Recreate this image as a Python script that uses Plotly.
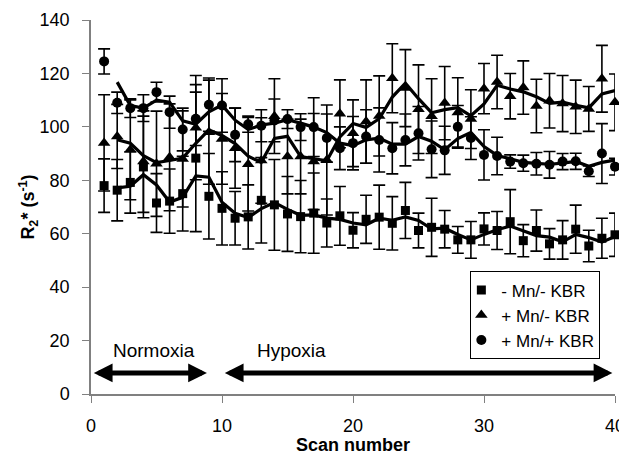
import plotly.graph_objects as go
import pandas as pd

scans = list(range(1, 41))

# - Mn / - KBR (squares)
sq_vals = [78, 76.3, 79.2, 85, 71.5, 72.2, 75, 88.3, 74, 69.5,
           65.8, 66.3, 72.5, 70.8, 67.4, 66.4, 67.7, 64, 66.7, 61.3,
           65.4, 66.2, 63.9, 68.7, 61.2, 62.4, 61.7, 57.7, 57.7, 61.8,
           61.2, 64.5, 57.4, 61.2, 56.2, 57.7, 61.7, 55.4, 58.3, 59.6]
sq_err = [10, 11.5, 11.5, 19, 11, 12, 14, 27.5, 16, 13.7,
          10, 12, 16, 17, 14, 13.5, 15, 9, 11, 6.6,
          9, 12, 10, 10.5, 6.5, 10.9, 7, 5, 6.9, 6,
          7.1, 12, 6, 7.7, 5.7, 7.2, 9, 5.9, 7.5, 8.1]

# + Mn / - KBR (triangles)
tr_vals = [94, 96.4, 91.4, 87, 86.2, 88.6, 88, 99.7, 98, 95.5,
           92, 86, 87.4, 104, 88.9, 88.9, 87, 87.6, 104.9, 97.6,
           102, 104.1, 118.2, 114.5, 106.6, 104, 108.9, 105.4, 102.9, 114.3,
           116.8, 111.5, 114.7, 107.8, 109.8, 108.7, 107.5, 106.7, 118, 109.2]
tr_err = [18, 12, 18.7, 19, 19.7, 20, 18, 19.5, 19.5, 17,
          15, 17.5, 16, 14, 14, 14, 18, 20.6, 12.7, 12.5,
          15.6, 15, 12.9, 14.4, 16.6, 14, 13.7, 13, 11, 9.4,
          10, 8.5, 10, 10, 10.2, 10.5, 10, 8.4, 12.5, 10.6]

# + Mn / + KBR (circles)
ci_vals = [124.5, 109, 107, 107, 113, 105.5, 99, 103, 108.3, 108,
           97, 101, 100.4, 102.4, 102.9, 99.9, 99.9, 95.8, 92, 93.9,
           96.4, 95.1, 92, 95.1, 97.6, 91.6, 91.2, 100, 95.8, 89.5,
           89.1, 87, 86.4, 86.2, 85.8, 87, 87.1, 83.4, 90, 85.1]
ci_err = [4.7, 4, 3.5, 5, 3.7, 6, 8, 10, 10, 10,
          10, 3, 6, 8, 3.5, 5, 11, 9, 8, 10,
          10, 12, 9.6, 9.7, 10, 10.6, 9, 8, 8, 9.4,
          7, 2.5, 3, 4.2, 5, 3, 3, 2, 11.2, 3.1]

series_names = ["- Mn/- KBR", "+ Mn/- KBR", "+ Mn/+ KBR"]
x_ticks = [0, 10, 20, 30, 40]
y_ticks = [0, 20, 40, 60, 80, 100, 120, 140]

# experimental phases (scan ranges) for the double arrows
phase_names = ["Normoxia", "Hypoxia"]
phase_start = [0.1, 10.1]
phase_end = [8.85, 39.8]
phase_label_x = [4.8, 15.3]
arrow_level = 7.9
label_level = 16.3

FONT = "Arial, 'Liberation Sans', sans-serif"

fig = go.Figure()

styles = [("square", 9), ("triangle-up", 11), ("circle", 10)]
data = [(sq_vals, sq_err), (tr_vals, tr_err), (ci_vals, ci_err)]

for (vals, errs), (sym, size) in zip(data, styles):
    fig.add_trace(go.Scatter(
        x=scans, y=vals, mode="markers",
        marker=dict(symbol=sym, size=size, color="black"),
        error_y=dict(type="data", array=errs, visible=True, color="black",
                     thickness=1.6, width=6),
        showlegend=False, cliponaxis=False))

for vals in [sq_vals, tr_vals, ci_vals]:
    ma = pd.Series(vals).rolling(2).mean()
    fig.add_trace(go.Scatter(
        x=scans, y=ma, mode="lines",
        line=dict(color="black", width=3.2),
        showlegend=False, hoverinfo="skip", cliponaxis=False))

for name, (sym, size) in zip(series_names, styles):
    fig.add_trace(go.Scatter(
        x=[None], y=[None], mode="markers", name=name,
        marker=dict(symbol=sym, size=size, color="black")))

annotations = []
for s, e in zip(phase_start, phase_end):
    annotations.append(dict(
        x=e, y=arrow_level, ax=s, ay=arrow_level, xref="x", yref="y",
        axref="x", ayref="y", text="", showarrow=True,
        arrowhead=2, arrowsize=0.75, arrowwidth=5, arrowcolor="black",
        startarrowhead=2, startarrowsize=0.75,
        arrowside="end+start", standoff=0, startstandoff=0))
for name, lx in zip(phase_names, phase_label_x):
    annotations.append(dict(
        x=lx, y=label_level, xref="x", yref="y", text=name,
        showarrow=False, font=dict(size=19, color="black", family=FONT)))

# the page body adds an 8 px offset, so the figure is sized to fit the window
fig.update_layout(
    width=619, height=447,
    margin=dict(l=83, r=12, t=12, b=61),
    paper_bgcolor="white", plot_bgcolor="white",
    font=dict(family=FONT, size=17, color="black"),
    annotations=annotations,
    legend=dict(
        x=0.848, y=0.328, xanchor="center", yanchor="top",
        bordercolor="black", borderwidth=1, bgcolor="white",
        font=dict(size=17, family=FONT), itemwidth=30, indentation=-10,
        tracegroupgap=0),
    xaxis=dict(
        range=[0, 40], tickvals=x_ticks, ticks="outside", ticklen=7,
        tickcolor="#808080", showline=True, linecolor="#808080", linewidth=1.5,
        showgrid=False, zeroline=False, automargin=False,
        ticklabelstandoff=8,
        tickfont=dict(size=18, family=FONT),
        title=dict(text="<b>Scan number</b>", font=dict(size=18, family=FONT),
                   standoff=5)),
    yaxis=dict(
        range=[0, 140], tickvals=y_ticks, ticks="outside", ticklen=7,
        tickcolor="#808080", showline=True, linecolor="#808080", linewidth=1.5,
        showgrid=False, zeroline=False, automargin=False,
        ticklabelstandoff=9,
        tickfont=dict(size=18, family=FONT),
        title=dict(text="<b>R<sub>2</sub>* (s<sup>-1</sup>)</b>",
                   font=dict(size=18, family=FONT), standoff=0)),
)

fig.write_html("out.html")
